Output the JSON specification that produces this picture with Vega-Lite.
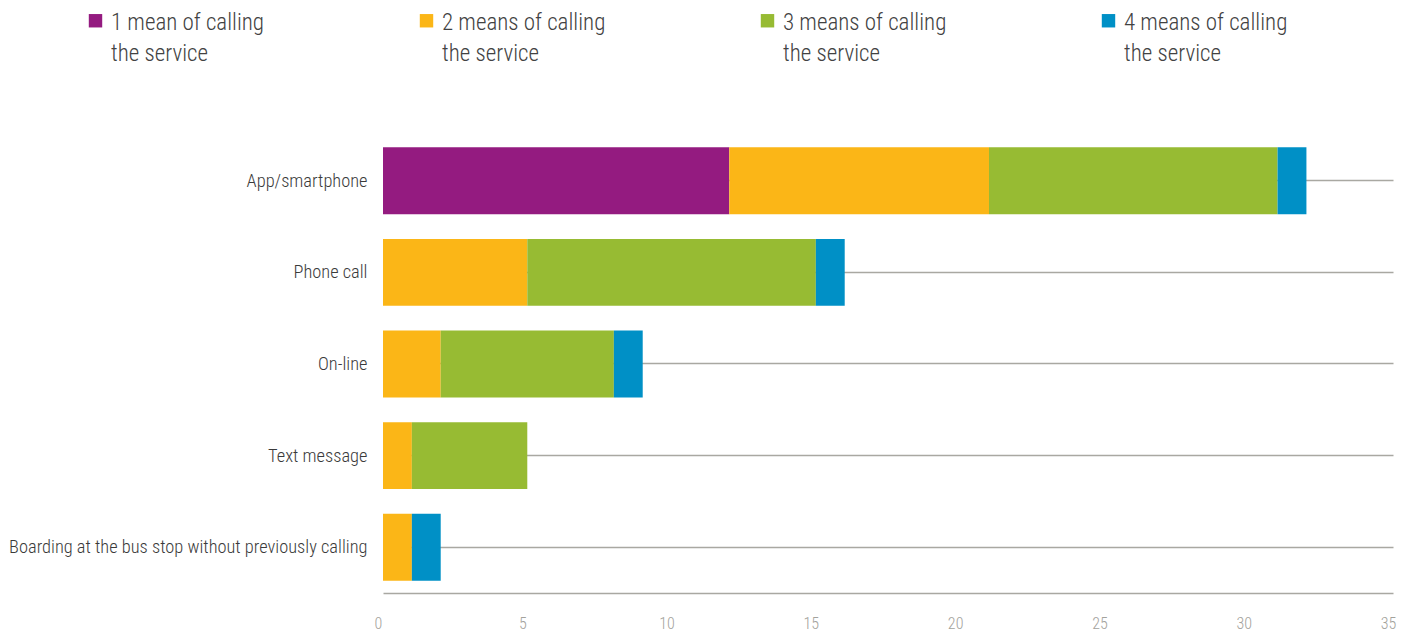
{
  "$schema": "https://vega.github.io/schema/vega-lite/v6.json",
  "width": 1010,
  "height": 458,
  "autosize": {"type": "none"},
  "padding": {"left": 383, "top": 135, "right": 14, "bottom": 43},
  "background": "white",
  "config": {
    "view": {"stroke": null},
    "font": "Roboto Condensed, Liberation Sans Narrow, Roboto"
  },
  "data": {
    "values": [
      {"channel": "App/smartphone", "k": 1, "series": "1 mean of calling the service", "value": 12},
      {"channel": "App/smartphone", "k": 2, "series": "2 means of calling the service", "value": 9},
      {"channel": "App/smartphone", "k": 3, "series": "3 means of calling the service", "value": 10},
      {"channel": "App/smartphone", "k": 4, "series": "4 means of calling the service", "value": 1},
      {"channel": "Phone call", "k": 2, "series": "2 means of calling the service", "value": 5},
      {"channel": "Phone call", "k": 3, "series": "3 means of calling the service", "value": 10},
      {"channel": "Phone call", "k": 4, "series": "4 means of calling the service", "value": 1},
      {"channel": "On-line", "k": 2, "series": "2 means of calling the service", "value": 2},
      {"channel": "On-line", "k": 3, "series": "3 means of calling the service", "value": 6},
      {"channel": "On-line", "k": 4, "series": "4 means of calling the service", "value": 1},
      {"channel": "Text message", "k": 2, "series": "2 means of calling the service", "value": 1},
      {"channel": "Text message", "k": 3, "series": "3 means of calling the service", "value": 4},
      {"channel": "Boarding at the bus stop without previously calling", "k": 2, "series": "2 means of calling the service", "value": 1},
      {"channel": "Boarding at the bus stop without previously calling", "k": 4, "series": "4 means of calling the service", "value": 1}
    ]
  },
  "mark": {"type": "bar"},
  "encoding": {
    "y": {
      "field": "channel",
      "type": "nominal",
      "sort": ["App/smartphone", "Phone call", "On-line", "Text message", "Boarding at the bus stop without previously calling"],
      "scale": {"paddingInner": 0.27, "paddingOuter": 0.135},
      "axis": {
        "title": null,
        "domain": false,
        "ticks": false,
        "grid": true,
        "bandPosition": 0.5,
        "gridColor": "#a9a8a2",
        "gridWidth": 1.5,
        "labelFontSize": 18.4,
        "labelFontWeight": 300,
        "labelColor": "#3a3a3a",
        "labelPadding": 16,
        "labelLimit": 400
      }
    },
    "x": {
      "field": "value",
      "type": "quantitative",
      "stack": "zero",
      "scale": {"domain": [0, 35], "nice": false},
      "axis": {
        "title": null,
        "values": [0, 5, 10, 15, 20, 25, 30, 35],
        "grid": false,
        "ticks": false,
        "domainColor": "#a9a8a2",
        "domainWidth": 1.5,
        "labelColor": "#a3a29c",
        "labelFontSize": 16,
        "labelFontWeight": 300,
        "labelPadding": 22,
        "labelOffset": -5,
        "labelFlush": false
      }
    },
    "order": {"field": "k", "type": "quantitative"},
    "color": {
      "field": "series",
      "type": "nominal",
      "scale": {
        "domain": ["1 mean of calling the service", "2 means of calling the service", "3 means of calling the service", "4 means of calling the service"],
        "range": ["#941b80", "#fbb617", "#97bb33", "#0090c6"]
      },
      "legend": {
        "title": null,
        "orient": "none",
        "legendX": -299,
        "legendY": -126,
        "direction": "horizontal",
        "columns": 4,
        "columnPadding": 150,
        "padding": 0,
        "symbolType": "square",
        "symbolSize": 180,
        "symbolStrokeWidth": 0,
        "symbolOpacity": 1,
        "labelOffset": 4,
        "labelFontSize": 23,
        "labelFontWeight": 300,
        "labelColor": "#424242",
        "labelLimit": 300,
        "labelBaseline": "alphabetic",
        "labelExpr": "[replace(datum.label, ' the service', ''), 'the service']",
        "encoding": {"labels": {"dy": {"value": 9}, "lineHeight": {"value": 31}}}
      }
    }
  }
}
